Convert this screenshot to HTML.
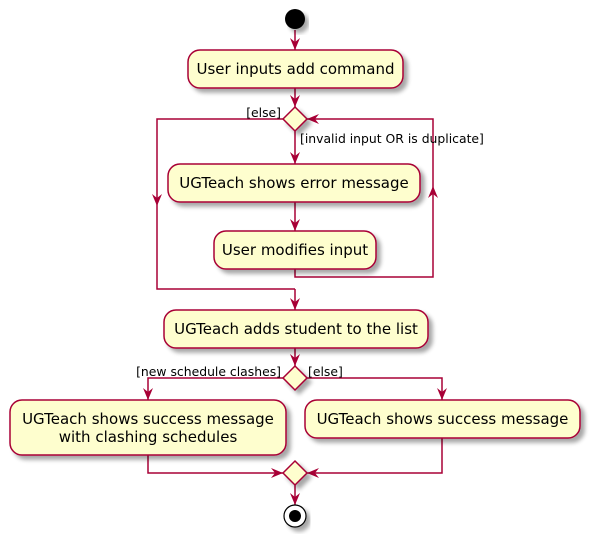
<!DOCTYPE html>
<html><head><style>body{margin:0;background:#fff}svg{display:block}</style></head><body>
<svg width="595" height="543" xmlns="http://www.w3.org/2000/svg" font-family="DejaVu Sans, Liberation Sans, sans-serif">
<defs><filter id="s" x="-10%" y="-10%" width="130%" height="140%"><feGaussianBlur in="SourceAlpha" stdDeviation="2"/><feOffset dx="4" dy="4"/><feComponentTransfer><feFuncA type="linear" slope="0.35"/></feComponentTransfer><feMerge><feMergeNode/><feMergeNode in="SourceGraphic"/></feMerge></filter></defs>
<g stroke="#A80036" stroke-width="1.5" fill="none">
<path d="M295 30V50M295 88V107M295 131V164M295 202V231M295 269V277H433V119H307M283 119H157V289H295M295 289V310M295 348V366M283 378H148V400M307 378H442V400M148 455V473H283M442 438V473H307M295 485V505"/>
</g>
<g fill="#A80036">
<path d="M290 38L295 50L300 38L295 42Z"/><path d="M290 95L295 107L300 95L295 99Z"/>
<path d="M290 152L295 164L300 152L295 156Z"/><path d="M290 219L295 231L300 219L295 223Z"/>
<path d="M290 298L295 310L300 298L295 302Z"/><path d="M290 354L295 366L300 354L295 358Z"/>
<path d="M290 493L295 505L300 493L295 497Z"/>
<path d="M152 194L157 206L162 194L157 198Z"/><path d="M428 198L433 186L438 198L433 194Z"/>
<path d="M319 114L307 119L319 124L315 119Z"/>
<path d="M143 388L148 400L153 388L148 392Z"/><path d="M437 388L442 400L447 388L442 392Z"/>
<path d="M271 468L283 473L271 478L275 473Z"/><path d="M319 468L307 473L319 478L315 473Z"/>
</g>
<circle cx="295" cy="19" r="10" fill="#000" filter="url(#s)"/>
<g fill="#FEFECE" stroke="#A80036" stroke-width="1.5" filter="url(#s)">
<rect x="188" y="50" width="215" height="38" rx="12"/>
<rect x="168" y="164" width="252" height="38" rx="12"/>
<rect x="214" y="231" width="162" height="38" rx="12"/>
<rect x="164" y="310" width="264" height="38" rx="12"/>
<rect x="10" y="400" width="276" height="55" rx="12"/>
<rect x="305" y="400" width="275" height="38" rx="12"/>
<path d="M295 107L307 119L295 131L283 119Z"/>
<path d="M295 366L307 378L295 390L283 378Z"/>
<path d="M295 461L307 473L295 485L283 473Z"/>
</g>
<circle cx="295" cy="516" r="11" fill="#fff" stroke="#000" stroke-width="1.2" filter="url(#s)"/>
<circle cx="295" cy="516" r="6" fill="#000"/>
<g font-size="15" fill="#000" text-anchor="middle">
<text x="295.5" y="74">User inputs add command</text>
<text x="294" y="188">UGTeach shows error message</text>
<text x="295" y="255">User modifies input</text>
<text x="296" y="334">UGTeach adds student to the list</text>
<text x="148" y="424">UGTeach shows success message</text>
<text x="148" y="442">with clashing schedules</text>
<text x="442.5" y="424">UGTeach shows success message</text>
</g>
<g font-size="12.4" fill="#000">
<text x="281" y="117" text-anchor="end">[else]</text>
<text x="300" y="143">[invalid input OR is duplicate]</text>
<text x="281" y="376" text-anchor="end">[new schedule clashes]</text>
<text x="308" y="376">[else]</text>
</g>
</svg>
</body></html>
